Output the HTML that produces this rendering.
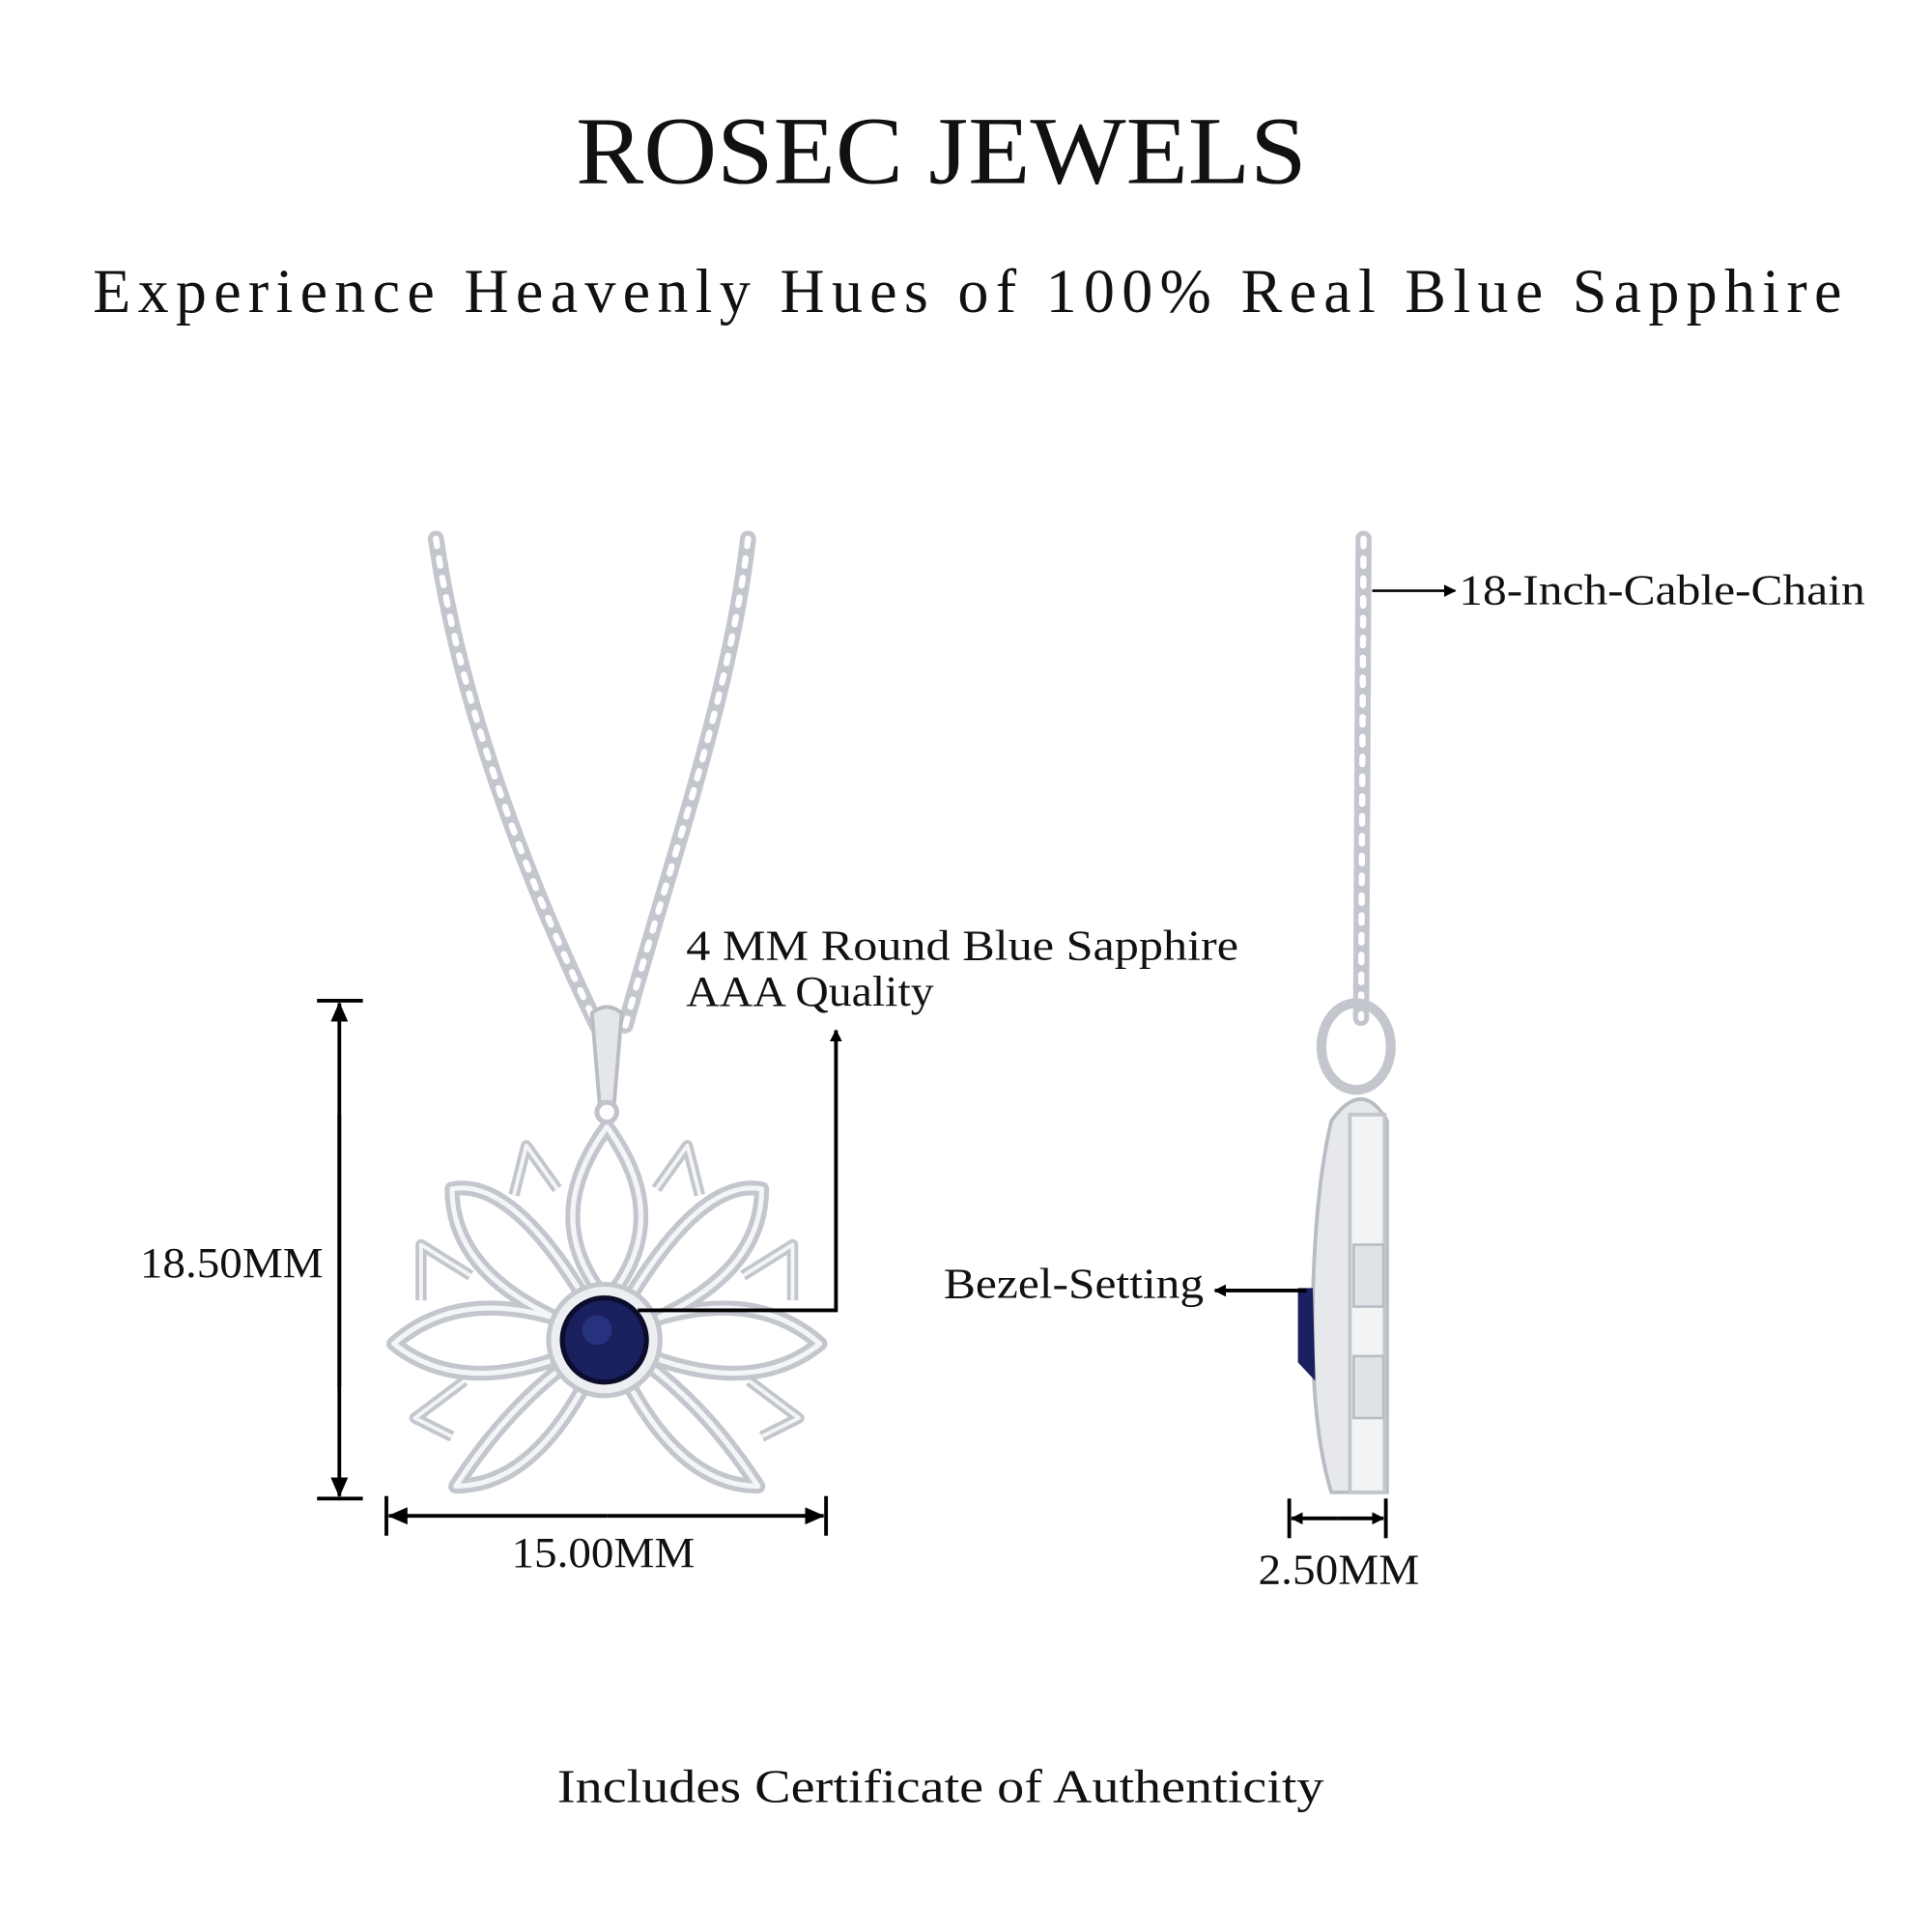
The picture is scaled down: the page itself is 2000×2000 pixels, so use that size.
<!DOCTYPE html>
<html><head><style>html,body{margin:0;padding:0;background:#fff;width:2000px;height:2000px;overflow:hidden}</style></head>
<body>
<svg width="2000" height="2000" viewBox="0 0 1560 1560" xmlns="http://www.w3.org/2000/svg" font-family="'Liberation Serif', 'DejaVu Serif', serif">
<defs>
<marker id="ah" markerWidth="10" markerHeight="10" refX="9" refY="5" orient="auto" markerUnits="userSpaceOnUse"><path d="M0,0 L10,5 L0,10 z" fill="#000"/></marker>
<marker id="ah2" markerWidth="16" markerHeight="14" refX="15" refY="7" orient="auto" markerUnits="userSpaceOnUse"><path d="M0,0 L16,7 L0,14 z" fill="#000"/></marker>
</defs>
<text x="760" y="148" font-size="78" text-anchor="middle" textLength="590" lengthAdjust="spacingAndGlyphs" fill="#111">ROSEC JEWELS</text>
<text x="781" y="252" font-size="50" text-anchor="middle" textLength="1412" lengthAdjust="spacing" fill="#111">Experience Heavenly Hues of 100% Real Blue Sapphire</text>

<!-- chains -->
<g fill="none" stroke-linecap="round">
<path d="M352,435 C370,560 420,700 482,828" stroke="#c3c7cd" stroke-width="13"/>
<path d="M352,435 C370,560 420,700 482,828" stroke="#fff" stroke-width="5" stroke-dasharray="6 10"/>
<path d="M604,435 C590,560 540,700 505,828" stroke="#c3c7cd" stroke-width="13"/>
<path d="M604,435 C590,560 540,700 505,828" stroke="#fff" stroke-width="5" stroke-dasharray="6 10"/>
<path d="M1101,435 L1099,822" stroke="#c3c7cd" stroke-width="13"/>
<path d="M1101,435 L1099,822" stroke="#fff" stroke-width="5" stroke-dasharray="6 10"/>
</g>

<!-- bail front -->
<path d="M478,818 Q490,808 502,818 L496,890 L484,890 Z" fill="#e4e6ea" stroke="#b8bcc3" stroke-width="3"/>
<circle cx="490" cy="898" r="8" fill="none" stroke="#c0c4ca" stroke-width="4"/>

<!-- lotus -->
<g fill="none" stroke-linejoin="round">
<g stroke="#c3c7cd" stroke-width="12">
<path d="M490,910 Q545,985 490,1050 Q435,985 490,910Z"/>
<path d="M490,1080 Q560,950 615,960 Q615,1040 490,1080Z"/>
<path d="M490,1080 Q420,950 365,960 Q365,1040 490,1080Z"/>
<path d="M490,1080 Q600,1030 662,1085 Q600,1135 490,1080Z"/>
<path d="M490,1080 Q380,1030 318,1085 Q380,1135 490,1080Z"/>
<path d="M490,1080 Q560,1120 612,1200 Q540,1200 490,1080Z"/>
<path d="M490,1080 Q420,1120 368,1200 Q440,1200 490,1080Z"/>
</g>
<g stroke="#c3c7cd" stroke-width="9">
<path d="M530,960 L555,925 L565,965"/>
<path d="M450,960 L425,925 L415,965"/>
<path d="M600,1030 L640,1005 L640,1050"/>
<path d="M380,1030 L340,1005 L340,1050"/>
<path d="M605,1115 L645,1145 L615,1160"/>
<path d="M375,1115 L335,1145 L365,1160"/>
</g>
<g stroke="#f4f5f7" stroke-width="3">
<path d="M530,960 L555,925 L565,965"/>
<path d="M450,960 L425,925 L415,965"/>
<path d="M600,1030 L640,1005 L640,1050"/>
<path d="M380,1030 L340,1005 L340,1050"/>
<path d="M605,1115 L645,1145 L615,1160"/>
<path d="M375,1115 L335,1145 L365,1160"/>
</g>
<g stroke="#f4f5f7" stroke-width="4">
<path d="M490,910 Q545,985 490,1050 Q435,985 490,910Z"/>
<path d="M490,1080 Q560,950 615,960 Q615,1040 490,1080Z"/>
<path d="M490,1080 Q420,950 365,960 Q365,1040 490,1080Z"/>
<path d="M490,1080 Q600,1030 662,1085 Q600,1135 490,1080Z"/>
<path d="M490,1080 Q380,1030 318,1085 Q380,1135 490,1080Z"/>
<path d="M490,1080 Q560,1120 612,1200 Q540,1200 490,1080Z"/>
<path d="M490,1080 Q420,1120 368,1200 Q440,1200 490,1080Z"/>
</g>
</g>
<circle cx="488" cy="1082" r="45" fill="#eceef1" stroke="#c3c7cd" stroke-width="4"/>
<circle cx="488" cy="1082" r="34" fill="#1a1f5e" stroke="#0b0d2a" stroke-width="4"/>
<circle cx="482" cy="1074" r="12" fill="#2d3a8c" opacity="0.7"/>

<!-- side view -->
<ellipse cx="1095" cy="845" rx="28" ry="35" fill="none" stroke="#c3c7cd" stroke-width="8"/>
<path d="M1075,905 Q1100,870 1120,905 L1120,1205 L1075,1205 Q1058,1150 1060,1050 Q1062,960 1075,905Z" fill="#e6e8ec" stroke="#b8bcc3" stroke-width="3"/>
<rect x="1090" y="900" width="28" height="305" fill="#f2f3f5" stroke="#c3c7cd" stroke-width="3"/>
<rect x="1093" y="1005" width="24" height="50" fill="#dfe2e6" stroke="#b8bcc3" stroke-width="2"/>
<rect x="1093" y="1095" width="24" height="50" fill="#dfe2e6" stroke="#b8bcc3" stroke-width="2"/>
<path d="M1048,1040 L1060,1040 L1062,1115 L1048,1100 Z" fill="#1a1f5e"/>

<!-- annotations -->
<g stroke="#000" stroke-width="3" fill="none">
<line x1="1108" y1="477" x2="1175" y2="477" marker-end="url(#ah)" stroke-width="2"/>
<polyline points="515,1058 675,1058 675,832" marker-end="url(#ah)"/>
<line x1="256" y1="808" x2="293" y2="808"/>
<line x1="256" y1="1210" x2="293" y2="1210"/>
<line x1="274" y1="1120" x2="274" y2="810" marker-end="url(#ah2)"/>
<line x1="274" y1="900" x2="274" y2="1208" marker-end="url(#ah2)"/>
<line x1="312" y1="1208" x2="312" y2="1240"/>
<line x1="667" y1="1208" x2="667" y2="1240"/>
<line x1="490" y1="1224" x2="314" y2="1224" marker-end="url(#ah2)"/>
<line x1="490" y1="1224" x2="665" y2="1224" marker-end="url(#ah2)"/>
<line x1="1055" y1="1042" x2="981" y2="1042" marker-end="url(#ah)"/>
<line x1="1041" y1="1210" x2="1041" y2="1242"/>
<line x1="1119" y1="1210" x2="1119" y2="1242"/>
<line x1="1080" y1="1226" x2="1043" y2="1226" marker-end="url(#ah)"/>
<line x1="1080" y1="1226" x2="1117" y2="1226" marker-end="url(#ah)"/>
</g>
<g fill="#111" font-size="35">
<text x="1178" y="488" textLength="328" lengthAdjust="spacingAndGlyphs">18-Inch-Cable-Chain</text>
<text x="554" y="775" textLength="446" lengthAdjust="spacingAndGlyphs">4 MM Round Blue Sapphire</text>
<text x="554" y="812" textLength="200" lengthAdjust="spacingAndGlyphs">AAA Quality</text>
<text x="113" y="1031" textLength="148" lengthAdjust="spacingAndGlyphs">18.50MM</text>
<text x="413" y="1265" textLength="148" lengthAdjust="spacingAndGlyphs">15.00MM</text>
<text x="762" y="1048" textLength="210" lengthAdjust="spacingAndGlyphs">Bezel-Setting</text>
<text x="1016" y="1279" textLength="130" lengthAdjust="spacingAndGlyphs">2.50MM</text>
<text x="450" y="1455" font-size="38" textLength="619" lengthAdjust="spacingAndGlyphs">Includes Certificate of Authenticity</text>
</g>
</svg>
</body></html>
